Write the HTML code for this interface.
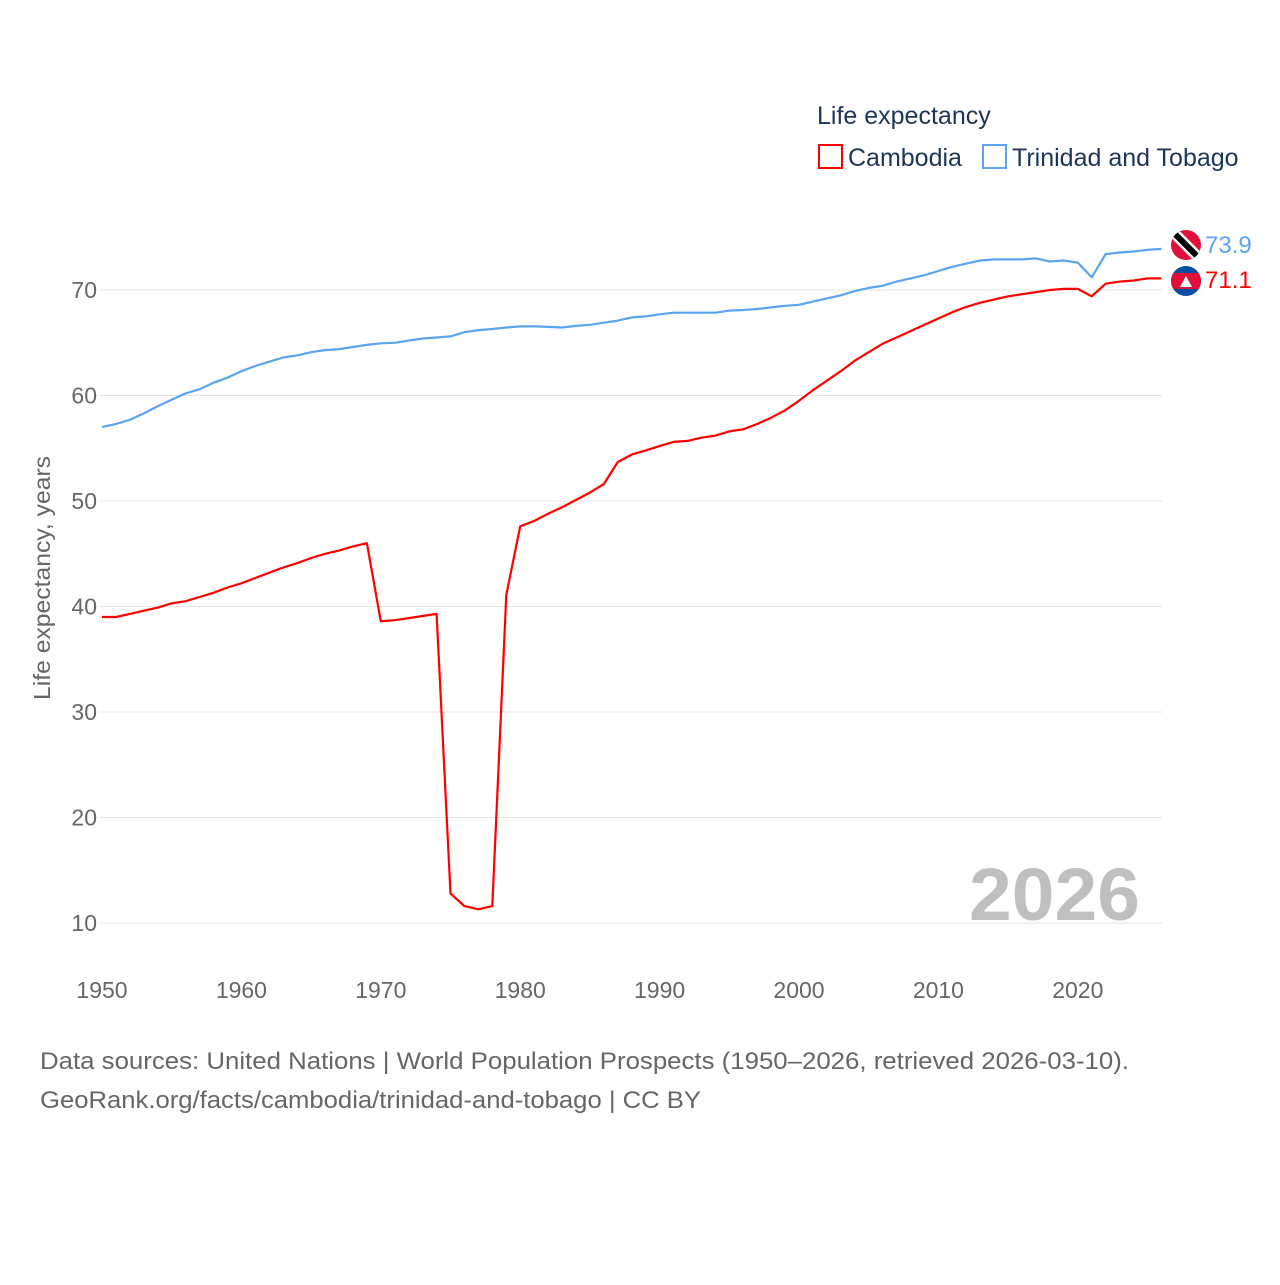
<!DOCTYPE html>
<html><head><meta charset="utf-8"><style>
html,body{margin:0;padding:0;background:#fff;}
body{width:1280px;height:1280px;overflow:hidden;font-family:"Liberation Sans",sans-serif;}
text{font-family:"Liberation Sans",sans-serif;}
</style></head><body>
<svg id="chart" width="1280" height="1280" viewBox="0 0 1280 1280" xmlns="http://www.w3.org/2000/svg">
<g id="grid"></g>
<g id="yticks"></g>
<g id="xticks"></g>
<text transform="translate(50,578) rotate(-90)" text-anchor="middle" font-size="23" fill="#666" textLength="244" lengthAdjust="spacingAndGlyphs">Life expectancy, years</text>
<text x="969" y="920" font-size="74" font-weight="bold" fill="#bfbfbf" textLength="171" lengthAdjust="spacingAndGlyphs">2026</text>
<g id="series"></g>
<g>
<text x="817" y="124" font-size="25" fill="#1d3557">Life expectancy</text>
<rect x="819" y="145" width="23" height="23" fill="none" stroke="#ff0000" stroke-width="2"/>
<text x="848" y="166" font-size="25" fill="#1d3557">Cambodia</text>
<rect x="983" y="145" width="23" height="23" fill="none" stroke="#5ba4f0" stroke-width="2"/>
<text x="1012" y="166" font-size="25" fill="#1d3557">Trinidad and Tobago</text>
</g>
<g>
<g>
<clipPath id="c1"><circle cx="1186" cy="245" r="15"/></clipPath>
<g clip-path="url(#c1)"><rect x="1170" y="229" width="32" height="32" fill="#e0103a"/>
<line x1="1170" y1="229" x2="1202" y2="261" stroke="#fff" stroke-width="11"/>
<line x1="1170" y1="229" x2="1202" y2="261" stroke="#000" stroke-width="6"/></g></g>
<g>
<clipPath id="c2"><circle cx="1186" cy="281" r="15"/></clipPath>
<g clip-path="url(#c2)"><rect x="1170" y="265" width="32" height="32" fill="#0b4ea2"/>
<rect x="1170" y="273" width="32" height="16" fill="#e0103a"/>
<polygon points="1180,287 1186,276 1192,287" fill="#fff"/></g></g>
<text x="1205" y="253" font-size="24" fill="#5ba4f0">73.9</text>
<text x="1205" y="288" font-size="24" fill="#ff0000">71.1</text>
</g>
<text x="40" y="1069" font-size="24" fill="#666" textLength="1089" lengthAdjust="spacingAndGlyphs">Data sources: United Nations | World Population Prospects (1950–2026, retrieved 2026-03-10).</text>
<text x="40" y="1108" font-size="24" fill="#666" textLength="661" lengthAdjust="spacingAndGlyphs">GeoRank.org/facts/cambodia/trinidad-and-tobago | CC BY</text>
</svg>
<script>
const yTicks = [10,20,30,40,50,60,70];
const xTicks = [1950,1960,1970,1980,1990,2000,2010,2020];
const startYear = 1950;
const cambodia = [39.0,39.0,39.3,39.6,39.9,40.3,40.5,40.9,41.3,41.8,42.2,42.7,43.2,43.7,44.1,44.6,45.0,45.3,45.7,46.0,
38.6,38.7,38.9,39.1,39.3,12.8,11.6,11.3,11.6,41.1,47.6,48.1,48.8,49.4,50.1,50.8,51.6,53.7,54.4,54.8,
55.2,55.6,55.7,56.0,56.2,56.6,56.8,57.3,57.9,58.6,59.5,60.5,61.4,62.3,63.3,64.1,64.9,65.5,66.1,66.7,
67.3,67.9,68.4,68.8,69.1,69.4,69.6,69.8,70.0,70.1,70.1,69.4,70.6,70.8,70.9,71.1,71.1];
const trinidad = [57.0,57.3,57.7,58.3,59.0,59.6,60.2,60.6,61.2,61.7,62.3,62.8,63.2,63.6,63.8,64.1,64.3,64.4,64.6,64.8,
64.95,65.0,65.2,65.4,65.5,65.6,66.0,66.2,66.3,66.45,66.55,66.55,66.5,66.45,66.6,66.7,66.9,67.1,67.4,67.5,
67.7,67.85,67.85,67.85,67.85,68.05,68.1,68.2,68.35,68.5,68.6,68.9,69.2,69.5,69.9,70.2,70.4,70.8,71.1,71.4,
71.8,72.2,72.5,72.8,72.9,72.9,72.9,73.0,72.7,72.8,72.6,71.2,73.4,73.55,73.65,73.8,73.9];
const NS='http://www.w3.org/2000/svg';
const xS = y => 102 + (y-1950)*13.94;
const yS = v => 290 - (v-70)*10.55;
const grid=document.getElementById('grid'), yt=document.getElementById('yticks'), xt=document.getElementById('xticks'), ser=document.getElementById('series');
yTicks.forEach(t=>{
  const l=document.createElementNS(NS,'line');
  
  
  l.setAttribute('x1',100);l.setAttribute('x2',1162);l.setAttribute('y1',yS(t));l.setAttribute('y2',yS(t));
  l.setAttribute('stroke','#e6e6e6');l.setAttribute('stroke-width','1');
  grid.appendChild(l);
  const tx=document.createElementNS(NS,'text');
  
  
  tx.setAttribute('x',97);tx.setAttribute('y',yS(t)+8);tx.setAttribute('text-anchor','end');
  tx.setAttribute('font-size','23');tx.setAttribute('fill','#666');tx.textContent=t;
  yt.appendChild(tx);
});
xTicks.forEach(t=>{
  const tx=document.createElementNS(NS,'text');
  
  
  tx.setAttribute('x',xS(t));tx.setAttribute('y',998);tx.setAttribute('text-anchor','middle');
  tx.setAttribute('font-size','23');tx.setAttribute('fill','#666');tx.textContent=t;
  xt.appendChild(tx);
});
function line(arr,color,name){
  const p=document.createElementNS(NS,'polyline');
  
  
  p.setAttribute('points',arr.map((v,i)=>xS(startYear+i).toFixed(1)+','+yS(v).toFixed(1)).join(' '));
  p.setAttribute('fill','none');p.setAttribute('stroke',color);p.setAttribute('stroke-width','2.2');
  p.setAttribute('stroke-linejoin','round');
  ser.appendChild(p);
}
line(trinidad,'#5ba4f0','trinidad-line');
line(cambodia,'#ff0000','cambodia-line');
</script>
</body></html>
